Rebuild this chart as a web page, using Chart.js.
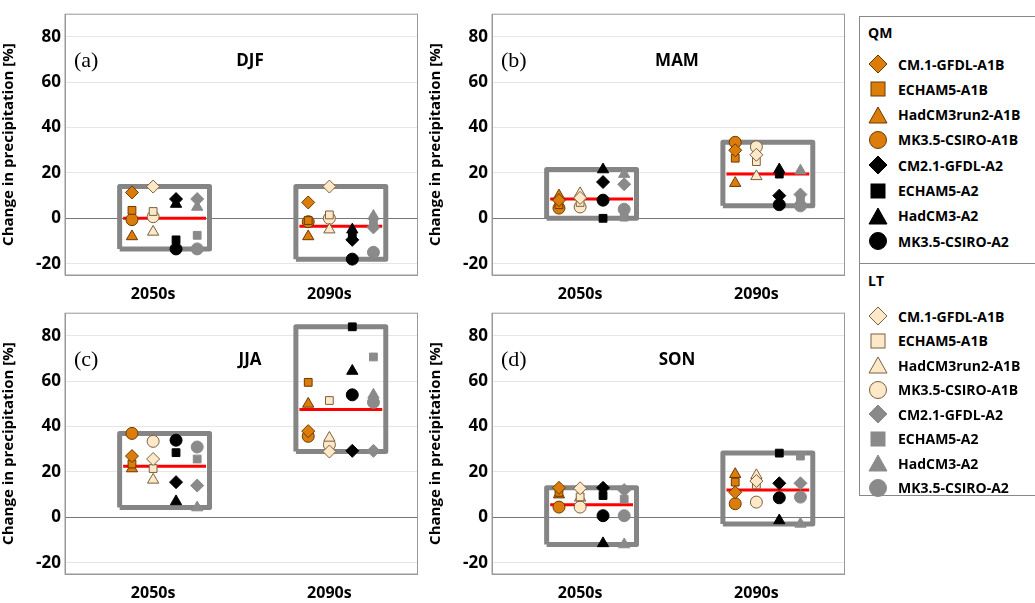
<!DOCTYPE html>
<html>
<head>
<meta charset="utf-8">
<script src="https://cdn.jsdelivr.net/npm/chart.js@4"></script>
<style>
  body { margin: 0; background: #fff; width: 1035px; height: 603px; overflow: hidden; position: relative; font-family: "Open Sans", sans-serif; }
  canvas { position: absolute; }
  #legend { position: absolute; left: 859px; top: 16px; width: 200px; height: 480px; border: 1px solid #888; border-right: none; box-sizing: border-box; }
  #legend .hd { position: absolute; left: 8px; font-weight: bold; font-size: 14px; }
  #legend .row { position: absolute; left: 8px; font-weight: bold; font-size: 14px; display: flex; align-items: center; height: 22px; white-space: nowrap; }
  #legend .row svg { margin-right: 10px; }
  #legend .div { position: absolute; left: 0; right: 0; top: 246px; border-top: 1px solid #888; }
</style>
</head>
<body>
<canvas id="pa" style="left:0;top:0"></canvas>
<canvas id="pb" style="left:427px;top:0"></canvas>
<canvas id="pc" style="left:0;top:299px"></canvas>
<canvas id="pd" style="left:427px;top:299px"></canvas>
<div id="legend"></div>
<script>
const periods = ['2050s', '2090s'];
const models = ['CM.1-GFDL-A1B', 'ECHAM5-A1B', 'HadCM3run2-A1B', 'MK3.5-CSIRO-A1B', 'CM2.1-GFDL-A2', 'ECHAM5-A2', 'HadCM3-A2', 'MK3.5-CSIRO-A2'];
const yTicks = [-20, 0, 20, 40, 60, 80];

// values per model: [2050s, 2090s]
const djfQM = [[11.4, 7], [3.5, -1], [-8, -8], [-0.6, -1.5], [8.5, -9.5], [-9.5, -8], [6.3, -5], [-13.5, -18]];
const djfLT = [[14, 14], [3, 1.5], [-6, -5], [0.7, 0], [8.5, -4], [-7.5, -2], [5, 1], [-13.5, -15]];
const mamQM = [[8, 30], [6, 26.5], [10, 15.5], [4.5, 33.5], [16, 10], [0, 19.5], [21.5, 21.5], [8, 6]];
const mamLT = [[9, 28], [7, 25], [11, 18.5], [5, 31.5], [15, 10.5], [0.5, 8], [19.5, 21], [4, 5.5]];
const jjaQM = [[27, 38], [23.5, 59.5], [21.5, 50], [37, 35.7], [15.5, 29.3], [28.5, 84], [7, 64.5], [34, 54]];
const jjaLT = [[25.7, 29], [21.5, 51.5], [16.5, 35], [33.5, 32], [14, 29.3], [25.7, 70.7], [4.3, 54], [31, 50.7]];
const sonQM = [[13, 11], [11, 15.5], [10, 19], [4.5, 6], [13, 15], [9.6, 28.3], [-11.5, -1.4], [0.7, 8.6]];
const sonLT = [[12.8, 16], [9, 14.3], [8.6, 18.5], [4.5, 6.7], [12, 15], [8, 27], [-12, -2.9], [0.7, 8.9]];
const djfMedian = [0, -3.5];
const mamMedian = [8.5, 19.5];
const jjaMedian = [22.5, 47.5];
const sonMedian = [5.5, 12];

const shapes = ['rectRot', 'rect', 'triangle', 'circle'];
const radii = { rectRot: 6.5, rect: 5.5, triangle: 6.5, circle: 6 };
const orange = '#dc7d0b', light = '#fde8c8', grey = '#8a8a8a';
// column offsets within a period
const offQMA1B = -0.12, offLTA1B = 0, offQMA2 = 0.13, offLTA2 = 0.25;

function pointSets(qm, lt) {
  const sets = [];
  models.forEach((m, i) => {
    const a1b = i < 4;
    const shape = shapes[i % 4];
    const r = radii[shape];
    sets.push({
      data: qm[i].map((v, p) => ({ x: p + 1 + (a1b ? offQMA1B : offQMA2), y: v })),
      pointStyle: shape, pointRadius: r,
      backgroundColor: a1b ? orange : '#000', borderColor: a1b ? '#6a3a00' : '#000', borderWidth: 1,
      showLine: false, order: 0
    });
    sets.push({
      data: lt[i].map((v, p) => ({ x: p + 1 + (a1b ? offLTA1B : offLTA2), y: v })),
      pointStyle: shape, pointRadius: r,
      backgroundColor: a1b ? light : grey, borderColor: a1b ? '#7a6040' : grey, borderWidth: 1,
      showLine: false, order: 0
    });
  });
  return sets;
}

function boxSets(qm, lt, med) {
  const sets = [];
  periods.forEach((p, k) => {
    const vals = qm.map(d => d[k]).concat(lt.map(d => d[k]));
    const lo = Math.min(...vals), hi = Math.max(...vals);
    const l = k + 1 - 0.19, r = k + 1 + 0.32;
    sets.push({
      data: [{ x: l, y: lo }, { x: l, y: hi }, { x: r, y: hi }, { x: r, y: lo }, { x: l, y: lo }],
      showLine: true, borderColor: '#858585', borderWidth: 5, pointRadius: 0, order: 2,
      borderJoinStyle: 'round'
    });
    sets.push({
      data: [{ x: k + 1 - 0.17, y: med[k] }, { x: k + 1 + 0.3, y: med[k] }],
      showLine: true, borderColor: '#ff0000', borderWidth: 3, pointRadius: 0, order: 1
    });
  });
  return sets;
}

const frame = {
  id: 'frame',
  afterDraw(chart, args, opts) {
    const { ctx, chartArea: a } = chart;
    ctx.save();
    ctx.strokeStyle = '#999';
    ctx.lineWidth = 1;
    ctx.strokeRect(a.left, a.top, a.right - a.left, a.bottom - a.top);
    ctx.fillStyle = '#000';
    ctx.font = '22px "Liberation Serif", serif';
    ctx.textBaseline = 'middle';
    ctx.fillText(opts.tag, a.left + 9, a.top + 47);
    ctx.font = 'bold 17px "Open Sans", sans-serif';
    ctx.textAlign = 'center';
    ctx.fillText(opts.title, a.left + 185, a.top + 47);
    ctx.restore();
  }
};

function panel(id, tag, title, qm, lt, med) {
  const el = document.getElementById(id);
  el.width = 425; el.height = 301;
  el.style.width = '425px'; el.style.height = '301px';
  new Chart(el, {
    type: 'scatter',
    data: { datasets: boxSets(qm, lt, med).concat(pointSets(qm, lt)) },
    plugins: [frame],
    options: {
      responsive: false, animation: false,
      layout: { padding: { top: 7, right: 4 } },
      plugins: { legend: { display: false }, tooltip: { enabled: false }, frame: { tag, title } },
      scales: {
        x: {
          type: 'linear', min: 0.5, max: 2.5,
          afterBuildTicks: s => { s.ticks = [{ value: 1 }, { value: 2 }]; },
          afterFit: s => { s.height = 26; },
          ticks: { callback: v => periods[v - 1], color: '#000', font: { weight: 'bold', size: 16, family: 'Open Sans' }, padding: 2 },
          grid: { display: false }, border: { color: '#999' }
        },
        y: {
          min: -25, max: 90,
          afterBuildTicks: s => { s.ticks = yTicks.map(v => ({ value: v })); },
          afterFit: s => { s.width = 65; },
          ticks: { color: '#000', font: { weight: 'bold', size: 17, family: 'Open Sans' }, padding: 4 },
          grid: { color: c => c.tick && c.tick.value === 0 ? '#777' : '#e6e6e6', drawTicks: false },
          border: { color: '#999' },
          title: { display: true, text: 'Change in precipitation [%]', color: '#000', font: { weight: 'bold', size: 15, family: 'Open Sans' }, padding: 0 }
        }
      }
    }
  });
}

panel('pa', '(a)', 'DJF', djfQM, djfLT, djfMedian);
panel('pb', '(b)', 'MAM', mamQM, mamLT, mamMedian);
panel('pc', '(c)', 'JJA', jjaQM, jjaLT, jjaMedian);
panel('pd', '(d)', 'SON', sonQM, sonLT, sonMedian);

// legend
function svgShape(shape, fill, stroke) {
  let s = '';
  if (shape === 'rectRot') s = '<polygon points="10,1 19,10 10,19 1,10"/>';
  if (shape === 'rect') s = '<rect x="3" y="3" width="14" height="14"/>';
  if (shape === 'triangle') s = '<polygon points="10,2 19,18 1,18"/>';
  if (shape === 'circle') s = '<circle cx="10" cy="10" r="8.5"/>';
  return '<svg width="20" height="20"><g fill="' + fill + '" stroke="' + stroke + '" stroke-width="1">' + s + '</g></svg>';
}
const lg = document.getElementById('legend');
let html = '<div class="hd" style="top:6px">QM</div><div class="div"></div><div class="hd" style="top:254px">LT</div>';
models.forEach((m, i) => {
  const a1b = i < 4, shape = shapes[i % 4];
  html += '<div class="row" style="top:' + (36 + i * 25.3) + 'px">' + svgShape(shape, a1b ? orange : '#000', a1b ? '#6a3a00' : '#000') + m + '</div>';
  html += '<div class="row" style="top:' + (288 + i * 24.5) + 'px">' + svgShape(shape, a1b ? light : grey, a1b ? '#7a6040' : grey) + m + '</div>';
});
lg.innerHTML = html;
</script>
</body>
</html>
